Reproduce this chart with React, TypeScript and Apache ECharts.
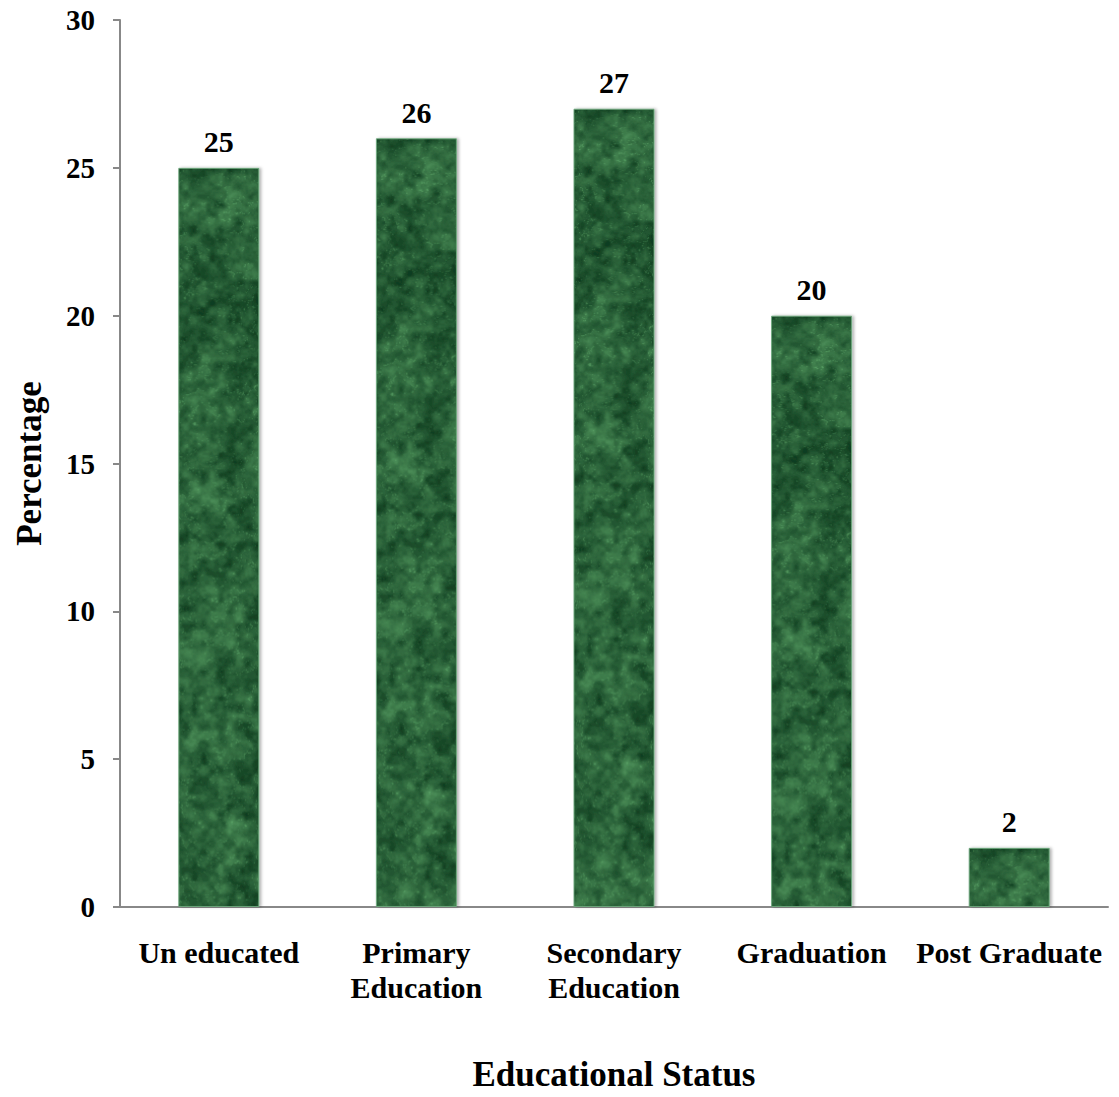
import React, { useEffect, useRef } from "react";
import * as echarts from "echarts";

const categories = ["Un educated", "Primary\nEducation", "Secondary\nEducation", "Graduation", "Post Graduate"];
const percentages = [25, 26, 27, 20, 2];
const yTicks = { min: 0, max: 30, interval: 5 };

const FONT = "'Liberation Serif', 'Times New Roman', serif";
const W = 1119;
const H = 1097;

// Deterministic lattice hash for the marble texture
function hash(x: number, y: number): number {
  let h = (x * 374761393 + y * 668265263) | 0;
  h = Math.imul(h ^ (h >>> 13), 1274126177);
  h ^= h >>> 16;
  return (h >>> 0) / 4294967295;
}

function valueNoise(x: number, y: number): number {
  const xi = Math.floor(x), yi = Math.floor(y);
  const xf = x - xi, yf = y - yi;
  const u = xf * xf * (3 - 2 * xf);
  const v = yf * yf * (3 - 2 * yf);
  const a = hash(xi, yi), b = hash(xi + 1, yi);
  const c = hash(xi, yi + 1), d = hash(xi + 1, yi + 1);
  return a + (b - a) * u + (c - a) * v + (a - b - c + d) * u * v;
}

function fbm(x: number, y: number): number {
  let s = 0, amp = 0.5, f = 1;
  for (let o = 0; o < 5; o++) {
    s += amp * valueNoise(x * f, y * f);
    f *= 2.1;
    amp *= 0.5;
  }
  return s;
}

// Green marble texture covering the whole chart, used as the bar fill
function makeMarble(): HTMLCanvasElement {
  const c = document.createElement("canvas");
  c.width = W; c.height = H;
  const ctx = c.getContext("2d")!;
  const img = ctx.createImageData(W, H);
  for (let y = 0; y < H; y++) {
    for (let x = 0; x < W; x++) {
      const n = fbm(x / 30, y / 30);
      const m = fbm(x / 9 + 7.3, y / 9 + 2.1);
      const vein = Math.abs(Math.sin((n * 8 + m * 4) * 1.7));
      let k = 0.32 + (n - 0.5) * 0.55 + (m - 0.5) * 0.8;
      if (vein < 0.1) k += (0.1 - vein) * 3.5;
      k = Math.max(0, Math.min(1, k));
      const i = (y * W + x) * 4;
      img.data[i] = Math.round(16 + k * 85);
      img.data[i + 1] = Math.round(62 + k * 115);
      img.data[i + 2] = Math.round(32 + k * 80);
      img.data[i + 3] = 255;
    }
  }
  ctx.putImageData(img, 0, 0);
  return c;
}

export default function App() {
  const ref = useRef<HTMLDivElement>(null);
  useEffect(() => {
    if (!ref.current) return;
    const chart = echarts.init(ref.current, null, { renderer: "svg" });
    const marble = makeMarble();
    chart.setOption({
      animation: false,
      backgroundColor: "#ffffff",
      grid: { left: 120, right: 11, top: 20, bottom: 186, containLabel: false },
      xAxis: {
        type: "category",
        data: categories,
        name: "Educational Status",
        nameLocation: "middle",
        nameGap: 150,
        nameTextStyle: { fontFamily: FONT, fontWeight: "bold", fontSize: 35, color: "#000" },
        axisLine: { lineStyle: { color: "#888", width: 2 } },
        axisTick: { show: false },
        axisLabel: {
          interval: 0,
          margin: 28,
          fontFamily: FONT,
          fontWeight: "bold",
          fontSize: 30,
          color: "#000",
          lineHeight: 35,
        },
      },
      yAxis: {
        type: "value",
        min: yTicks.min,
        max: yTicks.max,
        interval: yTicks.interval,
        name: "Percentage",
        nameLocation: "middle",
        nameGap: 73,
        nameRotate: 90,
        nameTextStyle: { fontFamily: FONT, fontWeight: "bold", fontSize: 35, color: "#000" },
        axisLine: { show: true, lineStyle: { color: "#888", width: 2 } },
        axisTick: { show: true, length: 7, lineStyle: { color: "#888", width: 2 } },
        splitLine: { show: false },
        axisLabel: { margin: 25, fontFamily: FONT, fontWeight: "bold", fontSize: 29, color: "#000" },
      },
      series: [
        {
          type: "bar",
          data: percentages,
          barWidth: "41%",
          itemStyle: {
            color: { image: marble, repeat: "no-repeat" },
            borderColor: "rgba(110,170,125,0.9)",
            borderWidth: 1,
            shadowColor: "rgba(0,0,0,0.3)",
            shadowBlur: 3,
            shadowOffsetX: 2,
          },
          label: {
            show: true,
            position: "top",
            distance: 11,
            fontFamily: FONT,
            fontWeight: "bold",
            fontSize: 30,
            color: "#000",
          },
        },
      ],
    });
    return () => chart.dispose();
  }, []);
  return (
    <div
      ref={ref}
      style={{ position: "fixed", left: 0, top: 0, width: W, height: H, background: "#fff" }}
    />
  );
}
